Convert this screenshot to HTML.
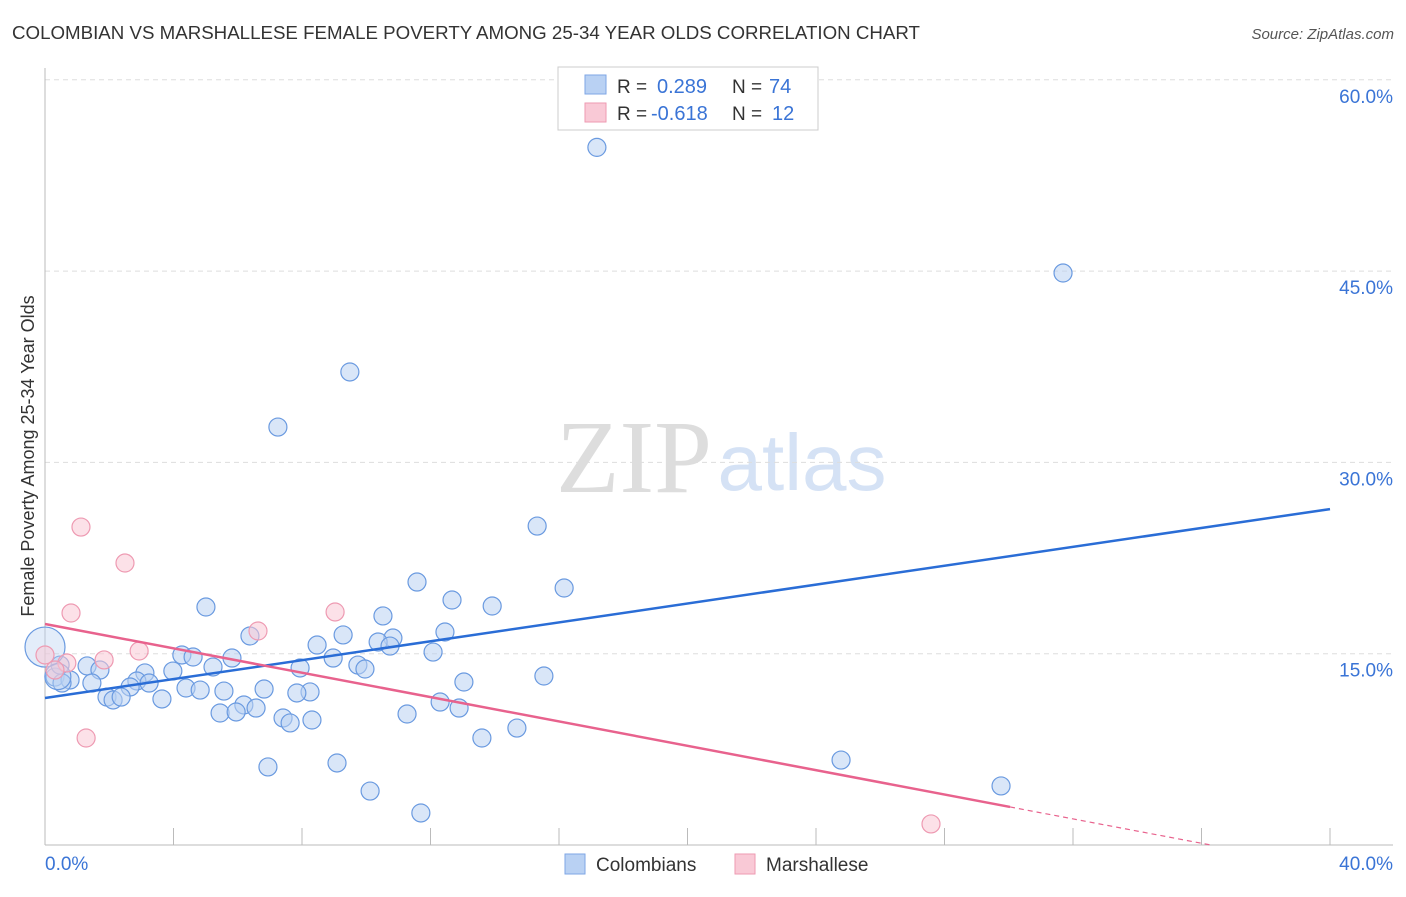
<!DOCTYPE html>
<html><head><meta charset="utf-8">
<style>
body{margin:0;background:#fff;font-family:"Liberation Sans",sans-serif;}
svg text{font-family:"Liberation Sans",sans-serif;}
</style></head>
<body>
<svg id="chart" width="1406" height="892" viewBox="0 0 1406 892" xmlns="http://www.w3.org/2000/svg">
<text x="12" y="39" font-size="18" fill="#333" textLength="908" lengthAdjust="spacingAndGlyphs">COLOMBIAN VS MARSHALLESE FEMALE POVERTY AMONG 25-34 YEAR OLDS CORRELATION CHART</text>
<text x="1394" y="39" font-size="15" fill="#555" font-style="italic" text-anchor="end">Source: ZipAtlas.com</text>
<text x="634" y="492" font-size="104" fill="#ddd" text-anchor="middle" style="font-family:'Liberation Serif',serif">ZIP</text>
<text x="802" y="490" font-size="80" fill="#d5e2f5" text-anchor="middle">atlas</text>
<g id="grid"></g>
<g id="axes"></g>
<g id="marks"></g>
<text transform="translate(34,456) rotate(-90)" font-size="18" fill="#333" text-anchor="middle">Female Poverty Among 25-34 Year Olds</text>
<g>
<rect x="558" y="67" width="260" height="63" fill="#fff" stroke="#ccc"/>
<rect x="585" y="75" width="21" height="19" fill="#b9d1f3" stroke="#7ea6e6"/>
<rect x="585" y="103" width="21" height="19" fill="#f9c9d6" stroke="#ee9ab2"/>
<text x="617" y="93" font-size="19" fill="#333">R =</text>
<text x="657" y="93" font-size="20" fill="#3a74d6">0.289</text>
<text x="732" y="93" font-size="19" fill="#333">N =</text>
<text x="769" y="93" font-size="20" fill="#3a74d6">74</text>
<text x="617" y="120" font-size="19" fill="#333">R =</text>
<text x="651" y="120" font-size="20" fill="#3a74d6">-0.618</text>
<text x="732" y="120" font-size="19" fill="#333">N =</text>
<text x="772" y="120" font-size="20" fill="#3a74d6">12</text>
</g>
<g>
<rect x="565" y="854" width="20" height="20" fill="#b9d1f3" stroke="#7ea6e6"/>
<text x="596" y="871" font-size="19" fill="#333">Colombians</text>
<rect x="735" y="854" width="20" height="20" fill="#f9c9d6" stroke="#ee9ab2"/>
<text x="766" y="871" font-size="19" fill="#333">Marshallese</text>
</g>
</svg>
<script>
const yTicks=[15,30,45,60];
const yTickLabels=["15.0%","30.0%","45.0%","60.0%"];
const xTickVals=[0,4,8,12,16,20,24,28,32,36,40];
const xEndLabels=["0.0%","40.0%"];
const blueX=[17.18,31.69,9.49,7.25,15.32,16.16,11.58,12.67,13.92,5.01,10.52,6.38,12.45,9.28,10.83,8.47,10.37,10.74,12.08,4.26,4.61,5.82,8.97,1.31,1.71,5.23,9.74,9.96,7.94,3.11,3.98,0.31,0.78,0.53,1.46,2.86,3.24,15.53,13.04,2.65,4.39,4.83,5.57,6.82,8.25,7.84,1.93,2.12,2.37,3.64,12.30,12.89,6.19,6.57,5.45,5.95,11.27,7.41,8.31,7.63,14.69,13.60,24.78,6.94,9.09,10.12,29.76,11.70,0.47];
const blueY=[54.7,44.85,37.09,32.77,25.01,20.15,20.62,19.21,18.74,18.66,17.96,16.39,16.70,16.47,16.23,15.68,15.92,15.60,15.13,14.90,14.74,14.66,14.66,14.04,13.72,13.96,14.11,13.80,13.88,13.49,13.64,13.17,12.94,12.70,12.70,12.86,12.70,13.25,12.78,12.39,12.31,12.15,12.07,12.23,12.00,11.92,11.60,11.37,11.60,11.45,11.21,10.74,10.98,10.74,10.35,10.43,10.27,9.96,9.80,9.57,9.17,8.39,6.66,6.12,6.43,4.23,4.63,2.51,14.11];
const blueBigX=[0,0.4];
const blueBigY=[15.52,13.2];
const blueBigR=[20,13];
const pinkX=[1.12,2.49,0.81,9.03,6.63,2.93,1.84,0.68,0,1.28,27.58,0.31];
const pinkY=[24.93,22.11,18.19,18.27,16.78,15.21,14.51,14.27,14.90,8.39,1.65,13.72];
const blueLine=[11.53,26.34];
const pinkLine=[17.33,-0.4776];
const pinkSolidEnd=30.04;

const X0=45,X1=1330,Y0=845,PX=(X1-X0)/40,PY=191.3/15;
const sx=v=>X0+v*PX, sy=v=>Y0-v*PY;
const NS="http://www.w3.org/2000/svg";
function mk(parent,tag,attrs){const e=document.createElementNS(NS,tag);for(const k in attrs)e.setAttribute(k,attrs[k]);document.getElementById(parent).appendChild(e);return e;}

yTicks.forEach((t,i)=>{
 const g=mk('grid','line',{x1:X0,x2:1393,y1:sy(t),y2:sy(t),stroke:'#ddd','stroke-dasharray':'5,4'});
 
 
 const tx=mk('grid','text',{x:1393,y:sy(t)+23,'font-size':19,fill:'#3a74d6','text-anchor':'end'});
 tx.textContent=yTickLabels[i];
 
 
});
let a=mk('axes','line',{x1:X0,x2:X0,y1:68,y2:Y0,stroke:'#bbb'});


a=mk('axes','line',{x1:X0,x2:1393,y1:Y0,y2:Y0,stroke:'#bbb'});


xTickVals.forEach(v=>{
 const t=mk('axes','line',{x1:sx(v),x2:sx(v),y1:828,y2:Y0,stroke:'#bbb'});
 
 
});
let xl=mk('axes','text',{x:45,y:870,'font-size':19,fill:'#3a74d6'});xl.textContent=xEndLabels[0];


xl=mk('axes','text',{x:1393,y:870,'font-size':19,fill:'#3a74d6','text-anchor':'end'});xl.textContent=xEndLabels[1];



function dot(x,y,r,fill,stroke,name,op){
 const c=mk('marks','circle',{cx:sx(x),cy:sy(y),r:r,fill:fill,'fill-opacity':op,stroke:stroke,'stroke-width':1.2});
 
 
}
blueX.forEach((x,i)=>dot(x,blueY[i],9,'#b9d1f3','#6a9ae0','colombian-point',0.55));
blueBigX.forEach((x,i)=>dot(x,blueBigY[i],blueBigR[i],'#b9d1f3','#6a9ae0','colombian-point-large',0.4));
pinkX.forEach((x,i)=>dot(x,pinkY[i],9,'#f9c9d6','#ee9ab2','marshallese-point',0.55));

let l=mk('marks','line',{x1:sx(0),y1:sy(blueLine[0]),x2:sx(40),y2:sy(blueLine[1]),stroke:'#2a6dd6','stroke-width':2.5});


const pAt=x=>pinkLine[0]+pinkLine[1]*x;
l=mk('marks','line',{x1:sx(0),y1:sy(pAt(0)),x2:sx(pinkSolidEnd),y2:sy(pAt(pinkSolidEnd)),stroke:'#e8628d','stroke-width':2.5});


const xz=Math.min(40,-pinkLine[0]/pinkLine[1]);
l=mk('marks','line',{x1:sx(pinkSolidEnd),y1:sy(pAt(pinkSolidEnd)),x2:sx(xz),y2:sy(pAt(xz)),stroke:'#e8628d','stroke-width':1.2,'stroke-dasharray':'5,4'});


</script>
</body></html>
